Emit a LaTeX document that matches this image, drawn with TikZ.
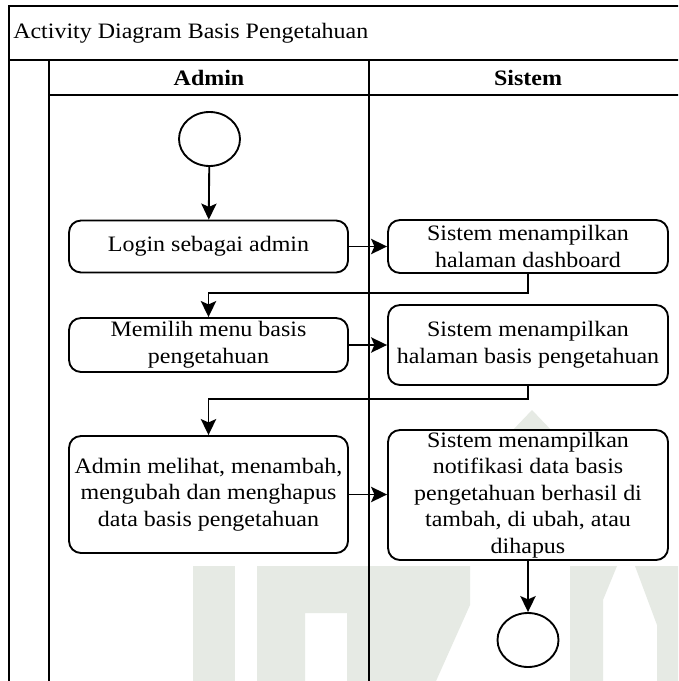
\documentclass[tikz,border=0pt]{standalone}
\usepackage{fontspec}
\setmainfont{Liberation Serif}[FakeStretch=1.09]
\usetikzlibrary{arrows.meta,shapes.geometric}

\definecolor{wmark}{RGB}{230,234,228}

\tikzset{
  frameline/.style={line width=1.5pt, line cap=rect},
  actbox/.style={draw, line width=1.4pt, rounded corners=9pt, fill=white,
    minimum width=279*0.75pt, align=center, inner sep=0pt,
    font=\fontsize{16.5pt}{19.9pt}\selectfont},
  endpoint/.style={draw, line width=1.4pt, ellipse, fill=white, inner sep=0pt,
    minimum width=61*0.75pt, minimum height=54*0.75pt},
  flow/.style={line width=1.4pt,
    -{Stealth[length=12pt, width=11.5pt, inset=2.5pt]}},
  lanehead/.style={font=\fontsize{16.5pt}{19.9pt}\selectfont\bfseries},
}

\begin{document}
\begin{tikzpicture}[x=0.75pt, y=-0.75pt]
  \useasboundingbox (0,0) rectangle (678,681);
  \clip (0,0) rectangle (678,681);
  \fill[white] (0,0) rectangle (678,681);

  % faint logo in the background
  \fill[wmark] (193,566) rectangle (235,690);
  \fill[wmark] (257,566) -- (470,566) -- (470,605) -- (432,690) -- (347,690)
    -- (347,613) -- (305,613) -- (305,690) -- (257,690) -- cycle;
  \fill[wmark] (532,410) -- (492,452) -- (572,452) -- cycle;
  \fill[wmark] (570,566) -- (617,566) -- (603,600) -- (603,690) -- (570,690) -- cycle;
  \fill[wmark] (635,566) -- (690,566) -- (690,690) -- (657,690) -- (657,625) -- cycle;

  % swimlane frame
  \draw[frameline] (9,690) -- (9,6) -- (690,6);
  \draw[frameline] (9,60) -- (690,60);
  \draw[frameline] (49,60) -- (49,690);
  \draw[frameline] (49,95) -- (690,95);
  \draw[frameline] (369,60) -- (369,690);

  \node[anchor=west, inner sep=0pt, font=\fontsize{16.5pt}{19.9pt}\selectfont]
    (title) at (13,33) {Activity Diagram Basis Pengetahuan};
  \node[lanehead] (admin) at (209,78) {Admin};
  \node[lanehead] (sistem) at (528,78) {Sistem};

  % activities
  \node[endpoint] (start) at (209.5,139) {};
  \node[actbox, minimum height=52*0.75pt] (login) at (208.5,246.5) {Login sebagai admin};
  \node[actbox, minimum width=280*0.75pt, minimum height=53*0.75pt] (dash) at (528,246.5)
    {Sistem menampilkan\\halaman dashboard};
  \node[actbox, minimum height=54*0.75pt] (menu) at (208.5,345)
    {Memilih menu basis\\pengetahuan};
  \node[actbox, minimum width=280*0.75pt, minimum height=80*0.75pt] (page) at (528,345)
    {Sistem menampilkan\\halaman basis pengetahuan};
  \node[actbox, minimum height=117*0.75pt] (crud) at (208.5,494.5)
    {Admin melihat, menambah,\\mengubah dan menghapus\\data basis pengetahuan};
  \node[actbox, minimum width=280*0.75pt, minimum height=130*0.75pt] (notif) at (528,495)
    {Sistem menampilkan\\notifikasi data basis\\pengetahuan berhasil di\\tambah, di ubah, atau\\dihapus};
  \node[endpoint] (end) at (528,640) {};

  % control flow
  \draw[flow] (start) -- (login);
  \draw[flow] (login) -- (dash);
  \draw[flow] (dash.south) -- ++(0,19) -| (menu.north);
  \draw[flow] (menu) -- (page);
  \draw[flow] (page.south) -- ++(0,13) -| (crud.north);
  \draw[flow] (crud.east) -- (notif.west |- crud.east);
  \draw[flow] (notif) -- (end);
\end{tikzpicture}
\end{document}
